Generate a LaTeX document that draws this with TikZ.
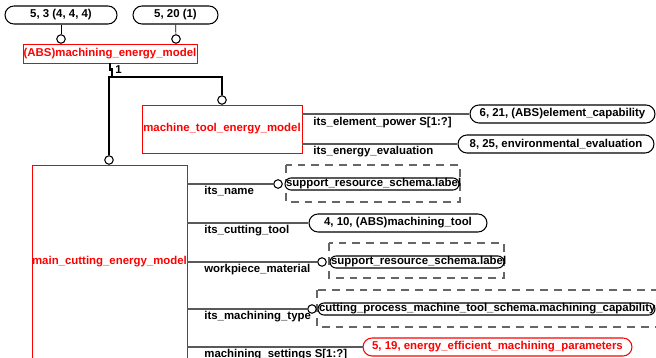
\documentclass[tikz,border=0pt]{standalone}
\usepackage{fontspec}
\setmainfont{Liberation Sans}

\begin{document}
\begin{tikzpicture}[x=0.02cm,y=-0.02cm,font=\fontsize{6.5}{7}\selectfont\bfseries,
  ent/.style={draw=red,text=red,line width=0.5pt,inner sep=0},
  pill/.style={draw,fill=white,line width=0.6pt,rounded corners=0.18cm,minimum height=0.36cm,inner sep=0},
  spill/.style={pill,rounded corners=0.12cm,minimum height=0.24cm},
  hole/.style={draw,fill=white,circle,line width=0.6pt,minimum size=0.17cm,inner sep=0},
  attr/.style={draw=black!65,line width=0.8pt},
  tree/.style={line width=1.3pt},
  sel/.style={draw=black!60,line width=0.6pt,dash pattern=on 4.5pt off 3.4pt},
  lbl/.style={anchor=north west,inner sep=0}]
\useasboundingbox (0,0) rectangle (656,358);
% supertype with its owners
\node[pill,minimum width=2.24cm] (own1) at (61,15) {5, 3 (4, 4, 4)}; \node[pill,minimum width=1.7cm] (own2) at (175.5,15) {5, 20 (1)};
\node[ent,minimum width=3.48cm,minimum height=0.38cm] (abs) at (110,53.5) {(ABS)machining\_energy\_model};
\node[hole] (h1) at (61,39) {}; \node[hole] (h2) at (176,39) {};
\draw (own1) -- (h1); \draw (own2) -- (h2);
% subtypes
\node[ent,minimum width=3.2cm,minimum height=0.96cm] (mtem) at (222,129) {machine\_tool\_energy\_model};
\node[ent,minimum width=3.1cm,minimum height=4.2cm,anchor=north] (mcem) at (109.5,165) {};
\node[text=red,inner sep=0] (mcemtxt) at (109.5,262) {main\_cutting\_energy\_model};
\node[hole] (h3) at (222,100) {}; \node[hole] (h4) at (109,160) {};
\coordinate (fork) at (109,77);
\draw[tree] (abs.south) -- ++(0,6) -- ++(2,0) -- ++(0,8);
\node[anchor=west,inner sep=0] (card) at (115,70) {1};
\draw[tree] (h4) -- (h4 |- fork) -| (h3);
% attributes of machine_tool_energy_model
\node[pill,minimum width=3.7cm] (cap) at (562.5,114) {6, 21, (ABS)element\_capability};
\node[pill,minimum width=3.92cm] (env) at (556,144) {8, 25, environmental\_evaluation};
\draw[attr] (mtem.east |- cap) -- (cap); \draw[attr] (mtem.east |- env) -- (env);
\node[lbl] (l1) at (313,117) {its\_element\_power S[1:?]}; \node[lbl] (l2) at (313,146) {its\_energy\_evaluation};
% attributes of main_cutting_energy_model
\draw[sel] (286,165) rectangle (460,202); \draw[sel] (329,243) rectangle (504,278); \draw[sel] (317,290) rectangle (680,327);
\node[spill,minimum width=3.48cm] (lab1) at (372,184) {\makebox[3.44cm][l]{support\_resource\_schema.label}};
\node[pill,minimum width=3.56cm] (tool) at (398,223) {4, 10, (ABS)machining\_tool};
\node[spill,minimum width=3.48cm] (lab2) at (417,262) {\makebox[3.44cm][l]{support\_resource\_schema.label}};
\node[spill,minimum width=6.74cm] (mcap) at (486.5,309) {\makebox[6.7cm][l]{cutting\_process\_machine\_tool\_schema.machining\_capability}};
\node[pill,draw=red,text=red,minimum width=5.38cm] (par) at (497.5,347) {5, 19, energy\_efficient\_machining\_parameters};
\node[hole] (h5) at (278,184) {}; \node[hole] (h6) at (322,262) {}; \node[hole] (h7) at (312,309) {};
\draw[attr] (mcem.east |- h5) -- (h5); \draw[attr] (mcem.east |- tool) -- (tool); \draw[attr] (mcem.east |- h6) -- (h6);
\draw[attr] (mcem.east |- h7) -- (h7); \draw[attr] (mcem.east |- par) -- (par);
\foreach \y/\t in {184/its\_name, 223/its\_cutting\_tool, 262/workpiece\_material, 309/its\_machining\_type, 347/machining\_settings S[1:?]}
  { \node[lbl] (l\y) at (204,\y+2) {\t}; }
\end{tikzpicture}
\end{document}
